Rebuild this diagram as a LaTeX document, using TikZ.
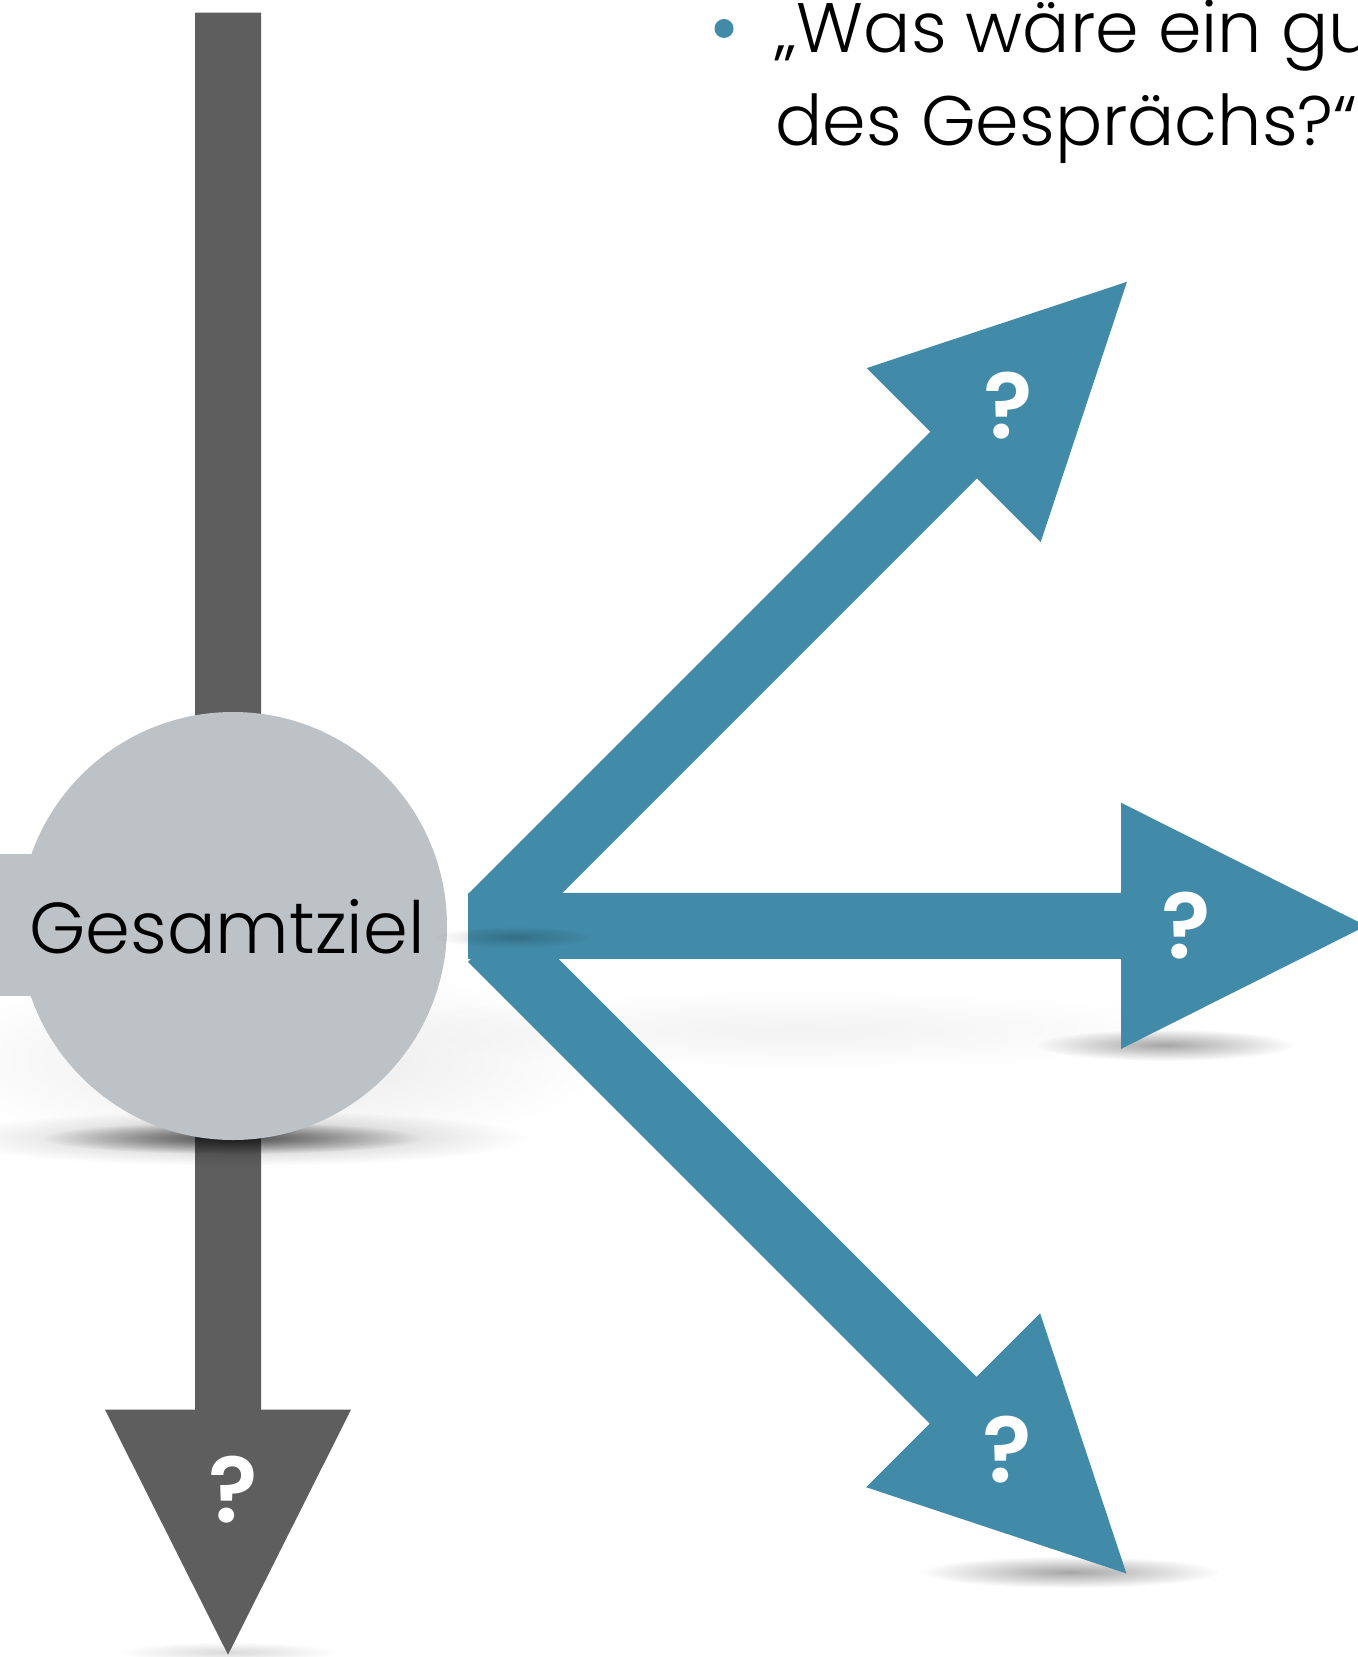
\documentclass[tikz,border=0pt]{standalone}
\usepackage{fontspec}
\setmainfont{Poppins}[UprightFont={* Light}, BoldFont={* SemiBold}]
\newcommand\schaftbreite{33}
\newcommand\kopfbreite{123}
\newcommand\kopflen{245}
\usetikzlibrary{positioning,fadings}
\definecolor{petrol}{RGB}{66,139,168}
\definecolor{dunkelgrau}{RGB}{94,94,94}
\definecolor{hellgrau}{RGB}{189,194,198}
\tikzfading[name=weich, inner color=transparent!0, outer color=transparent!100]
\tikzset{
  schaftlaenge/.store in=\schaftlen, schaftlaenge=653,
  frageabstand/.store in=\frageab, frageabstand=70,
  frage/.style={text=white, font=\bfseries\fontsize{46}{55}\selectfont, inner sep=0pt, xshift=2.5pt},
  zeile/.style={font=\fontsize{35}{42}\selectfont, inner sep=0pt, anchor=base west},
  kreis/.style={circle, fill=hellgrau, minimum size=214pt, inner sep=0pt},
  schatten/.style={fill=black, path fading=weich},
  pfeil/.pic={
    \fill[pic actions] (0,-\schaftbreite) -- (\schaftlen,-\schaftbreite) -- (\schaftlen,-\kopfbreite)
      -- ({\schaftlen+\kopflen},0) -- (\schaftlen,\kopfbreite) -- (\schaftlen,\schaftbreite) -- (0,\schaftbreite) -- cycle;
    \node[frage] (-frage) at ({\schaftlen+\frageab},0) {?};
  }
}
\begin{document}
\begin{tikzpicture}[x=0.5pt,y=-0.5pt]
  \fill[white] (0,0) rectangle (1357,1657);
  \useasboundingbox (0,0) rectangle (1357,1657);

  % weiche Schatten im Hintergrund
  \fill[schatten, opacity=0.09] (270,1060) ellipse (340 and 95);
  \fill[schatten, opacity=0.05] (800,1030) ellipse (420 and 40);
  \fill[schatten, opacity=0.35] (1165,1045) ellipse (130 and 16);
  \fill[schatten, opacity=0.35] (1070,1572) ellipse (150 and 16);
  \fill[schatten, opacity=0.15] (228,1652) ellipse (110 and 10);

  % Hauptachse
  \pic[fill=dunkelgrau, rotate=-90, schaftlaenge=1397, frageabstand=80] (unten) at (228,12.7) {pfeil};
  \fill[schatten, opacity=0.25] (240,1138) ellipse (290 and 28);
  \fill[schatten, opacity=0.6] (232,1138) ellipse (190 and 16);

  % Gesamtziel
  \fill[hellgrau] (0,854) rectangle (120,996);
  \node[kreis] (kreis) at (233,926) {};
  \node[font=\fontsize{36}{43}\selectfont, inner sep=0pt] (ziel) at (227,927) {Gesamtziel};

  % Teilziele
  \foreach \name/\winkel/\sx/\sy/\ab in {tief/-45/491.4/938.5/70, hoch/45/492/916.8/70, mitte/0/468.2/925.8/60}
    \pic[fill=petrol, rotate=\winkel, frageabstand=\ab] (\name) at (\sx,\sy) {pfeil};
  \fill[schatten, opacity=0.2] (515,937) ellipse (80 and 11);

  % Frage oben
  \node[circle, fill=petrol, minimum size=9.5pt, inner sep=0pt] (punkt) at (724,28.5) {};
  \node[zeile] (zeile1) at (775,53) {„Was wäre ein gu};
  \node[zeile] (zeile2) at (775,146) {des Gesprächs?“};
\end{tikzpicture}
\end{document}
